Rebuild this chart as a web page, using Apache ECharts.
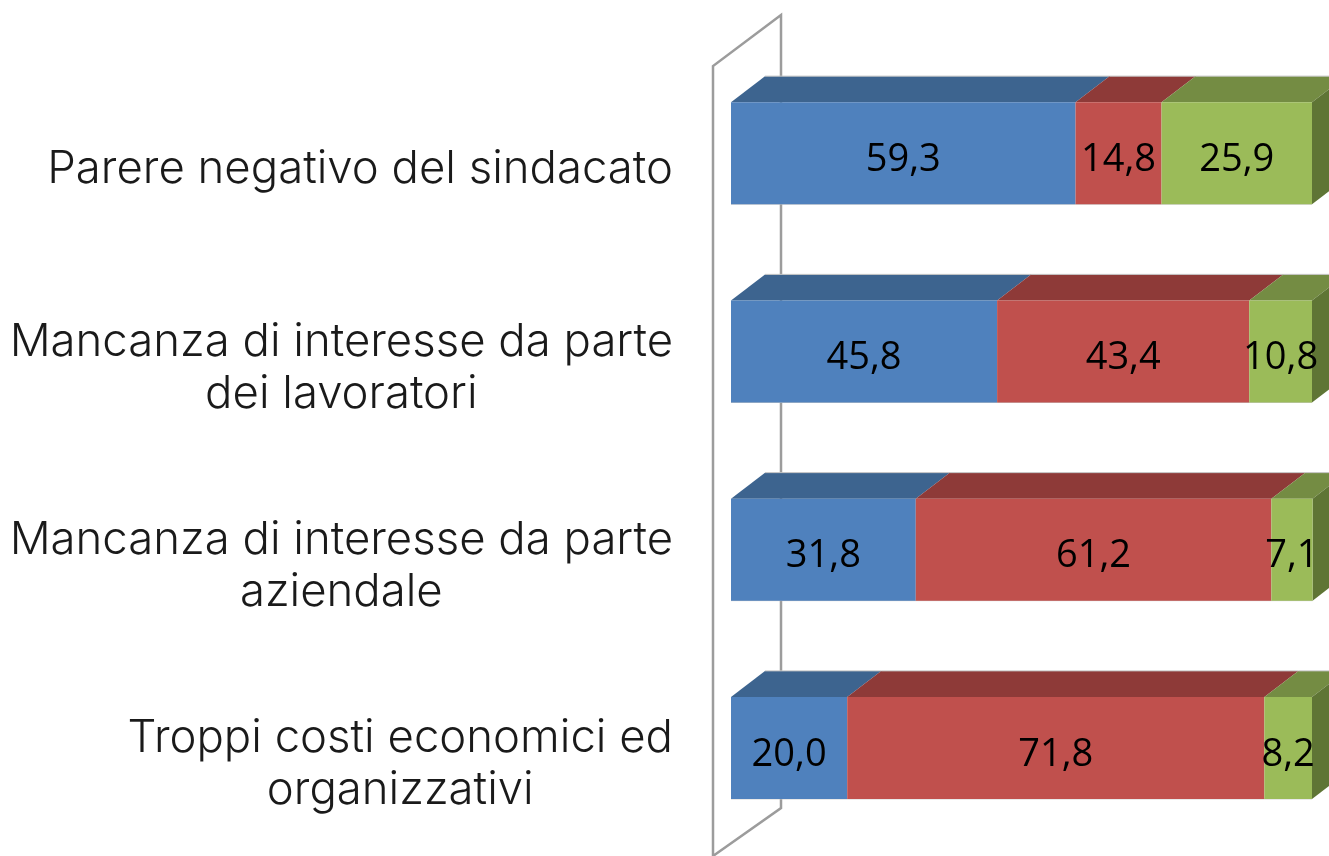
<!DOCTYPE html>
<html>
<head>
<meta charset="utf-8">
<style>
  html, body { margin: 0; background: #fff; }
  #chart { width: 1329px; height: 856px; }
</style>
<script src="https://cdn.jsdelivr.net/npm/echarts@6/dist/echarts.min.js"></script>
</head>
<body>
<div id="chart"></div>
<script>
const categories = [
  "Parere negativo del sindacato",
  "Mancanza di interesse da parte\ndei lavoratori",
  "Mancanza di interesse da parte\naziendale",
  "Troppi costi economici ed\norganizzativi"
];
const blueValues = [59.3, 45.8, 31.8, 20.0];
const redValues = [14.8, 43.4, 61.2, 71.8];
const greenValues = [25.9, 10.8, 7.1, 8.2];

const seriesList = [blueValues, redValues, greenValues];
const frontColors = ["#4f81bd", "#c0504d", "#9bbb59"];
const topColors = ["#3d648f", "#8e3a38", "#748c43"];
const sideColor = "#5f7535";
const edgeColor = "#c4c4c4";

const BAR_HEIGHT = 102;
const DEPTH_X = 34;
const DEPTH_Y = 26;

function formatValue(value) {
  return value.toFixed(1).replace(".", ",");
}

// each segment runs from the sum of the earlier series to that sum plus its value
function segmentData(seriesIndex) {
  return categories.map((_, row) => {
    let start = 0;
    for (let i = 0; i < seriesIndex; i++) {
      start += seriesList[i][row];
    }
    return [start, start + seriesList[seriesIndex][row], row];
  });
}

function renderDepthFaces(seriesIndex) {
  return (params, api) => {
    const left = api.coord([api.value(0), api.value(2)]);
    const right = api.coord([api.value(1), api.value(2)]);
    const top = left[1] - BAR_HEIGHT / 2;
    const bottom = top + BAR_HEIGHT;
    const children = [{
      type: "polygon",
      shape: {
        points: [
          [left[0], top],
          [left[0] + DEPTH_X, top - DEPTH_Y],
          [right[0] + DEPTH_X, top - DEPTH_Y],
          [right[0], top]
        ]
      },
      style: { fill: topColors[seriesIndex] }
    }, {
      type: "line",
      shape: { x1: left[0] + DEPTH_X, y1: top - DEPTH_Y, x2: right[0] + DEPTH_X, y2: top - DEPTH_Y },
      style: { stroke: edgeColor, lineWidth: 1 }
    }, {
      type: "line",
      shape: { x1: left[0], y1: bottom, x2: right[0], y2: bottom },
      style: { stroke: edgeColor, lineWidth: 1 }
    }];
    if (seriesIndex === seriesList.length - 1) {
      children.push({
        type: "polygon",
        shape: {
          points: [
            [right[0], top],
            [right[0] + DEPTH_X, top - DEPTH_Y],
            [right[0] + DEPTH_X, bottom - DEPTH_Y],
            [right[0], bottom]
          ]
        },
        style: { fill: sideColor }
      });
    }
    return { type: "group", children };
  };
}

// the grey back wall of the 3D plot, hung off the zero of the value axis
function renderWall(params, api) {
  const zero = api.coord([0, 0])[0];
  const sys = params.coordSys;
  const frontX = zero - 18;
  const backX = zero + 50;
  return {
    type: "polyline",
    shape: {
      points: [
        [frontX, sys.y + sys.height + 40],
        [frontX, sys.y + 12],
        [backX, sys.y - 39],
        [backX, sys.y + sys.height - 39],
        [frontX, sys.y + sys.height + 9]
      ]
    },
    style: { stroke: "#9c9c9c", lineWidth: 2.5, fill: null }
  };
}

const chart = echarts.init(document.getElementById("chart"));

chart.setOption({
  animation: false,
  backgroundColor: "#ffffff",
  grid: { left: 731, top: 54, width: 581, height: 793, containLabel: false },
  xAxis: { type: "value", min: 0, max: 100, show: false },
  yAxis: {
    type: "category",
    inverse: true,
    data: categories,
    axisLine: { show: false },
    axisTick: { show: false },
    axisLabel: {
      margin: 58,
      align: "right",
      padding: [33, 0, 0, 0],
      formatter(value) {
        return value.split("\n").map((line) => `{c|${line}}`).join("\n");
      },
      rich: {
        c: {
          align: "center",
          fontFamily: "Inter",
          fontWeight: 300,
          fontSize: 45.5,
          lineHeight: 52,
          color: "#1a1a1a"
        }
      }
    }
  },
  series: [
    { type: "custom", z: 1, silent: true, data: [[0]], renderItem: renderWall, clip: false },
    ...seriesList.map((_, i) => ({
      type: "custom",
      z: 2,
      silent: true,
      clip: false,
      data: segmentData(i),
      encode: { x: [0, 1], y: 2 },
      renderItem: renderDepthFaces(i)
    })),
    ...seriesList.map((values, i) => ({
      type: "bar",
      stack: "total",
      z: 3,
      clip: false,
      barWidth: BAR_HEIGHT,
      data: values,
      itemStyle: { color: frontColors[i] },
      label: {
        show: true,
        position: "inside",
        offset: [0, 7],
        color: "#000000",
        fontFamily: "Open Sans",
        fontSize: 38,
        formatter: (p) => formatValue(p.value)
      }
    }))
  ]
});
</script>
</body>
</html>
